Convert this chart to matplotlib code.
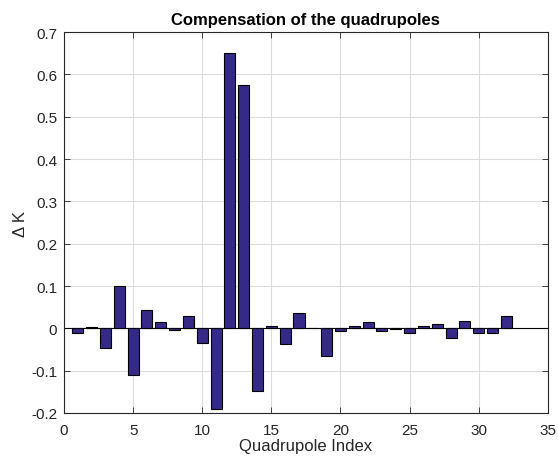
import matplotlib
matplotlib.use("Agg")
import matplotlib.pyplot as plt
import numpy as np

# quadrupole index and the correction delta K
idx = np.arange(1, 33)
dK = [-0.011, 0.003, -0.047, 0.100, -0.111, 0.043, 0.016, -0.005,
      0.029, -0.035, -0.191, 0.650, 0.575, -0.149, 0.005, -0.037,
      0.036, 0.002, -0.065, -0.007, 0.005, 0.016, -0.006, -0.001,
      -0.011, 0.005, 0.010, -0.023, 0.017, -0.011, -0.011, 0.029]
xticks = [0, 5, 10, 15, 20, 25, 30, 35]
yticks = [-0.2, -0.1, 0, 0.1, 0.2, 0.3, 0.4, 0.5, 0.6, 0.7]

plt.rcParams['font.family'] = ['Liberation Sans', 'DejaVu Sans']

fig = plt.figure(figsize=(5.58, 4.6), dpi=100)
ax = fig.add_axes([0.1147, 0.1, 0.867, 0.828])

ax.bar(idx, dK, width=0.8, color='#352a87', edgecolor='k', linewidth=0.8, zorder=3)
ax.axhline(0, color='k', lw=0.8, zorder=2)

ax.set_xlim(0, 35)
ax.set_ylim(-0.2, 0.7)
ax.set_xticks(xticks)
ax.set_yticks(yticks)
ax.set_yticklabels(['-0.2', '-0.1', '0', '0.1', '0.2', '0.3', '0.4', '0.5', '0.6', '0.7'])
ax.grid(True, color='#dcdcdc', lw=0.8, zorder=0)
ax.set_axisbelow(True)
ax.tick_params(direction='in', top=True, right=True, labelsize=11, length=4, width=0.6,
               color='#262626', labelcolor='#262626')
ax.tick_params(axis='x', pad=7)
ax.tick_params(axis='y', pad=5)
for s in ax.spines.values():
    s.set_linewidth(0.8)
    s.set_color('#262626')

ax.set_xlabel('Quadrupole Index', fontsize=12, color='#262626', labelpad=1)
ax.set_ylabel('\u0394 K', fontsize=12, color='#262626', labelpad=2)
ax.set_title('Compensation of the quadrupoles', fontsize=12, fontweight='bold', pad=6)

fig.savefig('out.png', dpi=100)
